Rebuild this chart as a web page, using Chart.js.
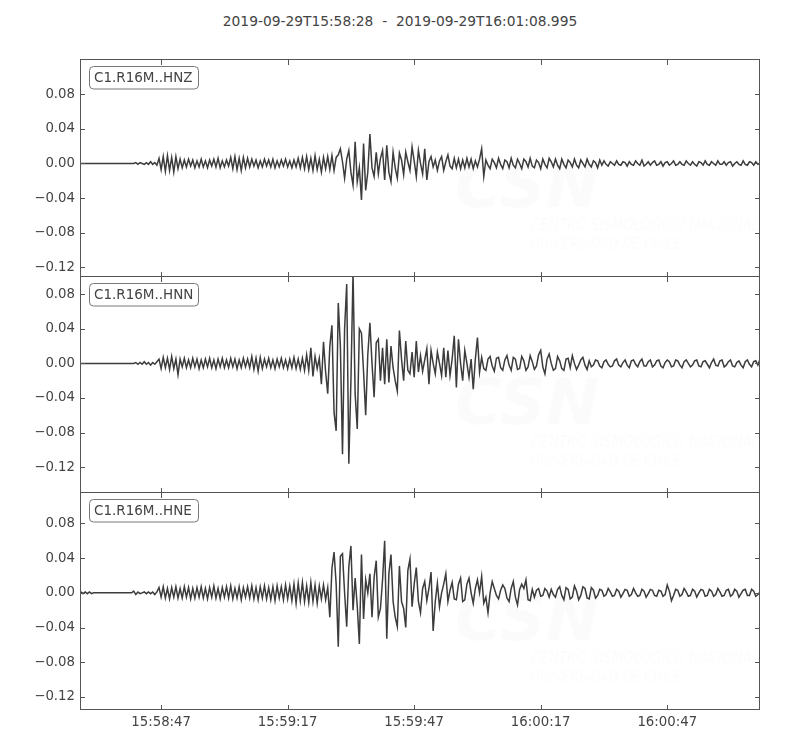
<!DOCTYPE html>
<html>
<head>
<meta charset="utf-8">
<script src="https://cdn.jsdelivr.net/npm/chart.js@4.4.0/dist/chart.umd.min.js"></script>
<style>
  body { margin: 0; background: #fff; }
  #wrap { position: relative; width: 800px; height: 750px; background: #fff; }
  #wrap canvas { position: absolute; left: 0; }
  #title {
    position: absolute; top: 13px; left: 0; width: 800px; text-align: center;
    font: 13.8px "DejaVu Sans", sans-serif; color: #444; white-space: pre; line-height: 16px;
  }
</style>
</head>
<body>
<div id="wrap">
  <div id="title">2019-09-29T15:58:28  -  2019-09-29T16:01:08.995</div>
  <canvas id="hnzChart" width="800" height="257" style="top:40px"></canvas>
  <canvas id="hnnChart" width="800" height="256" style="top:257px"></canvas>
  <canvas id="hneChart" width="800" height="277" style="top:473px"></canvas>
</div>
<script>
// samples every 0.5 s from 15:58:28, values in thousandths
const sampleStep = 0.5;

const hnzData = [
  0,0,0,0,0,0,0,0,0,0,0,0,0,0,0,0,0,0,0,0,0,0,0,0,0,
  0,1,-1,1,0,-1,1,-1,2,-1,1,-2,
  6,-7,8,-9,9,-8,7,-10,8,-6,5,
  -5,4,-4,5,-3,4,-5,3,-4,5,-4,3,-5,4,-3,5,-4,6,-5,3,-4,4,-3,
  7,-6,8,-7,6,-8,7,-5,6,
  -4,5,-3,4,-5,3,-4,5,-3,4,-4,5,-5,3,-4,4,-3,5,-4,3,-5,4,-4,6,-5,
  7,-6,8,-7,6,-8,9,-7,5,-10,7,-6,8,-7,9,-8,7,10,
  17,2,-17,5,15,-10,-25,25,-21,-5,-42,23,-31,-10,34,
  -5,-15,13,-12,6,15,-19,21,-10,-21,13,-5,-17,12,4,-13,13,2,-8,19,3,-15,
  15,0,-12,17,-19,2,8,-4,4,-8,3,8,-8,2,10,-3,-6,6,-5,5,
  -6,4,-5,6,-4,5,-6,3,-4,5,
  17,-15,
  4,-2,-6,5,1,-5,6,-1,-6,4,2,-5,6,-2,-5,5,0,-6,5,2,-4,6,-3,-5,4,1,-6,5,-1,-5,6,2,-4,5,-2,-6,
  5,-1,-5,4,1,-4,5,-2,-5,4,0,-4,5,-1,-4,3,1,-5,4,
  -2,3,-1,-3,2,0,-2,3,-1,-2,2,1,-3,2,-1,-2,3,0,-2,4,-3,-1,2,-2,1,3,-2,-1,2,-3,
  1,2,-2,0,3,-2,-1,2,-1,-2,3,0,-2,2,-1,-3,2,1,-2,3,-1,-2,2,0,-2,3,-1,-1,2,-2,
  1,2,-3,0,2,-1,-2,3,-1,-2,2,1,-2,2,-1,0
];

const hnnData = [
  0,0,0,0,0,0,0,0,0,0,0,0,0,0,0,0,0,0,0,0,0,0,0,0,0,
  0,1,-1,1,-1,2,-1,1,-2,1,-1,2,
  5,-6,7,-5,6,-7,8,-6,5,-13,
  5,-4,6,-5,4,-5,6,-4,5,-6,4,-5,5,-4,6,-5,4,-6,5,-4,6,-5,4,-5,6,-4,5,-6,4,-5,6,-4,5,-5,
  8,-7,6,-9,7,-6,
  5,-4,6,-5,4,-6,5,-4,6,-5,4,-6,5,-5,7,-6,5,-7,6,
  -8,10,-8,18,-15,8,-6,
  6,-24,25,-10,-35,20,44,-57,-78,70,20,-105,40,92,-116,-20,105,-35,-76,40,35,-10,-60,10,47,0,-39,
  24,28,-20,18,-24,28,-22,20,-5,-20,-32,38,5,-20,26,-8,-12,13,-16,26,-10,
  9,-9,4,17,-24,15,0,-12,13,0,-14,18,-16,15,-14,5,32,-28,28,0,-20,15,0,-16,5,-30,5,30,-10,7,
  -6,-8,5,8,-3,-9,6,7,-5,-8,4,9,-2,-8,7,5,-7,-6,8,3,-8,-4,9,2,-7,-3,
  10,15,-4,-12,5,11,0,-8,-6,8,3,-6,-8,5,6,-5,9,0,-7,-2,4,7,-2,-7,3,
  -4,-2,4,3,-3,-5,2,4,-1,-4,-3,3,5,-2,-4,1,4,-2,-5,3,4,-1,-4,2,5,-3,-3,2,4,-4,
  -2,3,4,-3,-5,1,4,2,-4,-3,4,3,-2,-5,2,4,0,-4,-2,3,4,-3,-4,2,3,-1,-5,1,5,-2,
  -3,3,4,-4,-2,2,4,-3,-4,1,3,-2,-5,2,4,-1,-4,2,3,-2,5
];

const hneData = [
  1,-1,1,-1,1,-1,0,0,0,0,0,0,0,0,0,0,0,0,0,0,0,0,0,0,0,
  2,-2,1,-1,0,1,-1,1,-1,1,-2,1,
  6,-5,7,-6,5,-7,6,-5,7,-6,5,-6,7,-5,6,-7,5,-6,6,-5,
  7,-6,5,-7,6,-5,8,-6,5,-7,6,-5,7,-6,8,-7,5,-6,7,-8,
  6,-5,7,-6,8,-7,6,-8,7,-6,8,-7,6,-8,7,-9,8,-6,7,-8,9,-7,8,-9,
  10,-12,11,-9,12,-10,8,-11,12,-10,9,-12,
  8,-7,9,-8,6,
  -28,28,47,10,-62,42,45,0,-39,30,54,-20,17,-15,-59,44,-30,15,0,22,
  -28,18,37,-28,-18,15,60,-53,22,44,-10,-28,-39,31,-10,-18,-40,26,39,-16,
  10,29,-10,-23,5,13,-9,5,24,-44,-10,11,-16,0,10,22,-10,3,12,-7,
  -8,10,17,-10,-8,10,17,0,-12,5,15,0,19,-12,-5,-23,0,13,5,-3,
  -7,3,9,5,-6,-10,5,13,-5,-14,4,10,5,15,-8,-9,
  4,-5,3,5,-4,-3,5,2,-5,4,-2,-5,4,
  7,-3,-8,6,4,-7,-5,8,2,-8,-3,7,5,-6,-7,6,3,-6,
  -3,4,3,-4,-2,5,1,-4,-3,4,2,-5,-1,4,3,-4,-2,5,0,-4,
  -3,4,2,-5,-1,4,3,-3,-4,3,2,-4,-2,9,2,-9,-3,4,3,-4,
  -2,5,1,-4,-3,4,2,-5,0,4,3,-4,-3,4,2,-4,-2,5,1,-4,
  -3,3,4,-4,-2,4,2,-5,-1,3,4,-3,-3,4,2,-4,-2,1
];

const traceLabels = ["C1.R16M..HNZ", "C1.R16M..HNN", "C1.R16M..HNE"];
const yLimits = [[-0.131, 0.1194], [-0.150, 0.100], [-0.135, 0.115]];
const yTickValues = [0.08, 0.04, 0.00, -0.04, -0.08, -0.12];
const xTickSeconds = [19, 49, 79, 109, 139];
const xTickLabels = ["15:58:47", "15:59:17", "15:59:47", "16:00:17", "16:00:47"];
const traceSeconds = 160.995;

Chart.defaults.font.family = "'DejaVu Sans', sans-serif";
Chart.defaults.font.size = 13.3;
Chart.defaults.color = "#444";

// frame, inward ticks, station label and faint watermark, matplotlib style
const panelDecor = {
  id: "panelDecor",
  beforeDatasetsDraw(chart) {
    const { ctx, chartArea: a } = chart;
    ctx.save();
    ctx.beginPath();
    ctx.rect(a.left, a.top, a.right - a.left, a.bottom - a.top);
    ctx.clip();
    ctx.fillStyle = "rgba(0,0,0,0.016)";
    ctx.font = "italic bold 64px 'DejaVu Sans'";
    ctx.textBaseline = "alphabetic";
    ctx.fillText("CSN", a.left + 374, a.top + 147);
    ctx.font = "italic 15px 'DejaVu Sans Condensed', 'DejaVu Sans'";
    ctx.fillText("CENTRO SISMOLÓGICO NACIONAL", a.left + 450, a.top + 170, 228);
    ctx.fillText("UNIVERSIDAD DE CHILE", a.left + 450, a.top + 189, 150);
    ctx.restore();
  },
  afterDraw(chart, args, opts) {
    const { ctx, chartArea: a } = chart;
    const x = chart.scales.x, y = chart.scales.y;
    ctx.save();
    ctx.strokeStyle = "#555";
    ctx.lineWidth = 1;
    ctx.strokeRect(a.left - 0.5, a.top - 0.5, a.right - a.left, a.bottom - a.top);
    ctx.beginPath();
    yTickValues.forEach(v => {
      const py = Math.round(y.getPixelForValue(v)) + 0.5;
      ctx.moveTo(a.left, py); ctx.lineTo(a.left + 4, py);
      ctx.moveTo(a.right - 1, py); ctx.lineTo(a.right - 5, py);
    });
    xTickSeconds.forEach(s => {
      const px = Math.round(x.getPixelForValue(s)) + 0.5;
      ctx.moveTo(px, a.top); ctx.lineTo(px, a.top + 5);
      ctx.moveTo(px, a.bottom - 1); ctx.lineTo(px, a.bottom - 5);
    });
    ctx.stroke();

    // station label box
    const bx = a.left + 8.5, by = a.top + 6.5, bw = 109, bh = 22.5, r = 4;
    ctx.beginPath();
    ctx.moveTo(bx + r, by);
    ctx.arcTo(bx + bw, by, bx + bw, by + bh, r);
    ctx.arcTo(bx + bw, by + bh, bx, by + bh, r);
    ctx.arcTo(bx, by + bh, bx, by, r);
    ctx.arcTo(bx, by, bx + bw, by, r);
    ctx.closePath();
    ctx.fillStyle = "#fff";
    ctx.fill();
    ctx.strokeStyle = "#777";
    ctx.stroke();
    ctx.fillStyle = "#444";
    ctx.font = "13.5px 'DejaVu Sans'";
    ctx.textBaseline = "middle";
    ctx.fillText(opts.label, a.left + 13, a.top + 18.5);
    ctx.restore();
  }
};

function fmtY(v) {
  const s = Math.abs(v).toFixed(2);
  return v < -1e-9 ? "\u2212" + s : s;
}

function makeChart(id, values, k, showX) {
  const points = values.map((v, i) => ({ x: i * sampleStep, y: v / 1000 }));
  const xScale = {
    type: "linear",
    min: 0,
    max: traceSeconds,
    display: showX,
    afterBuildTicks: s => { s.ticks = xTickSeconds.map(v => ({ value: v })); },
    ticks: { callback: (v, i) => xTickLabels[i], padding: 5, maxRotation: 0, autoSkip: false },
    grid: { display: false, drawTicks: false },
    border: { display: false }
  };
  if (showX) xScale.afterFit = s => { s.height = 40; };

  return new Chart(document.getElementById(id), {
    type: "line",
    data: {
      datasets: [{
        data: points,
        borderColor: "#3c3c3c",
        borderWidth: 1.5,
        pointRadius: 0,
        tension: 0,
        fill: false
      }]
    },
    options: {
      responsive: false,
      animation: false,
      devicePixelRatio: 1,
      layout: { padding: { top: 20, bottom: showX ? 0 : 20, left: 0, right: 40 } },
      plugins: {
        legend: { display: false },
        tooltip: { enabled: false },
        panelDecor: { label: traceLabels[k] }
      },
      scales: {
        x: xScale,
        y: {
          min: yLimits[k][0],
          max: yLimits[k][1],
          afterBuildTicks: s => { s.ticks = yTickValues.map(v => ({ value: v })); },
          afterFit: s => { s.width = 81; },
          ticks: { callback: v => fmtY(v), padding: 6, autoSkip: false },
          grid: { display: false, drawTicks: false },
          border: { display: false }
        }
      }
    },
    plugins: [panelDecor]
  });
}

makeChart("hnzChart", hnzData, 0, false);
makeChart("hnnChart", hnnData, 1, false);
makeChart("hneChart", hneData, 2, true);
</script>
</body>
</html>
